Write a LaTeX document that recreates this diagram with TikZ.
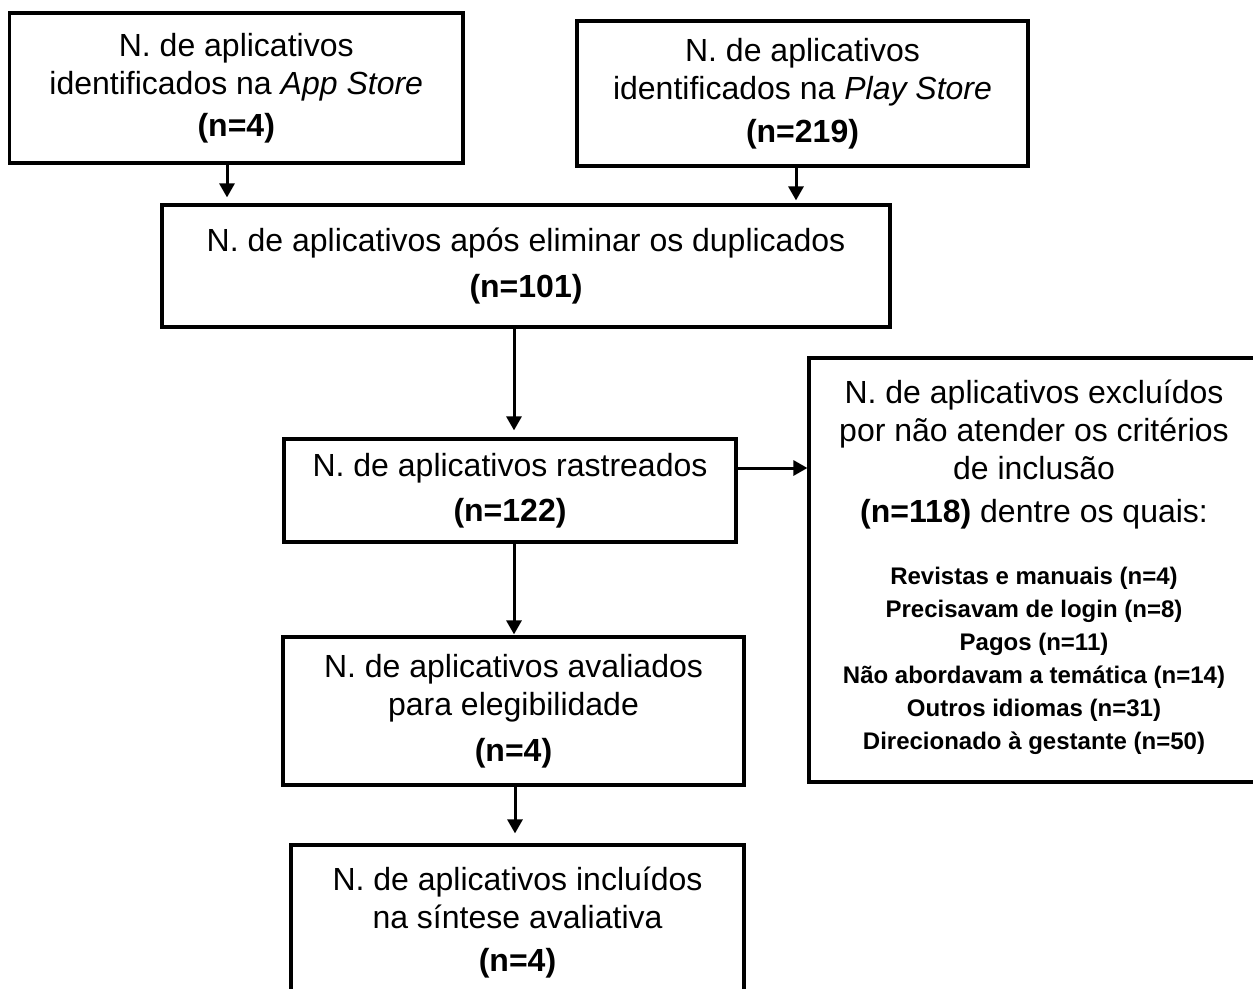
\documentclass[tikz,border=0pt]{standalone}
\usepackage{fontspec}
\setmainfont{Liberation Sans}
\usetikzlibrary{arrows.meta}
\begin{document}
\begin{tikzpicture}[x=1pt,y=-1pt,
  box/.style={draw=black, line width=3.2pt, inner sep=0pt, align=center,
    font=\fontsize{32}{38}\selectfont},
  arr/.style={draw=black, line width=3pt, -{Triangle[length=14pt,width=15pt]}}]
\useasboundingbox (0,0) rectangle (1253,988);
\fill[white] (0,0) rectangle (1253,988);

\node[box, minimum width=453.5pt, minimum height=150pt] (b1) at (236.25,88)
  {N. de aplicativos\\identificados na \textit{App Store}\\[4pt]\textbf{(n=4)}};
\node[box, minimum width=451pt, minimum height=145pt] (b2) at (802.5,93.5)
  {N. de aplicativos\\identificados na \textit{Play Store}\\[5pt]\textbf{(n=219)}};
\node[box, minimum width=728pt, minimum height=122pt] (b3) at (526,266)
  {N. de aplicativos após eliminar os duplicados\\[8pt]\textbf{(n=101)}};
\node[box, minimum width=452pt, minimum height=103pt] (b4) at (510,490.5)
  {N. de aplicativos rastreados\\[7pt]\textbf{(n=122)}};
\node[box, minimum width=450pt, minimum height=424pt] (b5) at (1034,570)
  {N. de aplicativos excluídos\\por não atender os critérios\\de inclusão\\[5pt]\textbf{(n=118)} dentre os quais:\\[31pt]
   {\fontsize{24}{33}\selectfont\bfseries
   \begin{tabular}{@{}c@{}}
   Revistas e manuais (n=4)\\
   Precisavam de login (n=8)\\
   Pagos (n=11)\\
   Não abordavam a temática (n=14)\\
   Outros idiomas (n=31)\\
   Direcionado à gestante (n=50)
   \end{tabular}}};
\node[box, minimum width=461pt, minimum height=148pt] (b6) at (513.5,711)
  {N. de aplicativos avaliados\\para elegibilidade\\[8pt]\textbf{(n=4)}};
\node[box, minimum width=453pt, minimum height=155pt] (b7) at (517.5,922.5)
  {N. de aplicativos incluídos\\na síntese avaliativa\\[5pt]\textbf{(n=4)}};

\coordinate (x1) at (227,0);
\coordinate (x2) at (796,0);
\coordinate (x3) at (514,0);
\coordinate (x4) at (515,0);
\coordinate (y45) at (0,468);

\draw[arr, shorten >=6pt] (b1.south -| x1) -- (b3.north -| x1);
\draw[arr, shorten >=3pt] (b2.south -| x2) -- (b3.north -| x2);
\draw[arr, shorten >=7pt] (b3.south -| x3) -- (b4.north -| x3);
\draw[arr] (b4.east |- y45) -- (b5.west |- y45);
\draw[arr, shorten >=1pt] (b4.south -| x3) -- (b6.north -| x3);
\draw[arr, shorten >=10pt] (b6.south -| x4) -- (b7.north -| x4);
\end{tikzpicture}
\end{document}
